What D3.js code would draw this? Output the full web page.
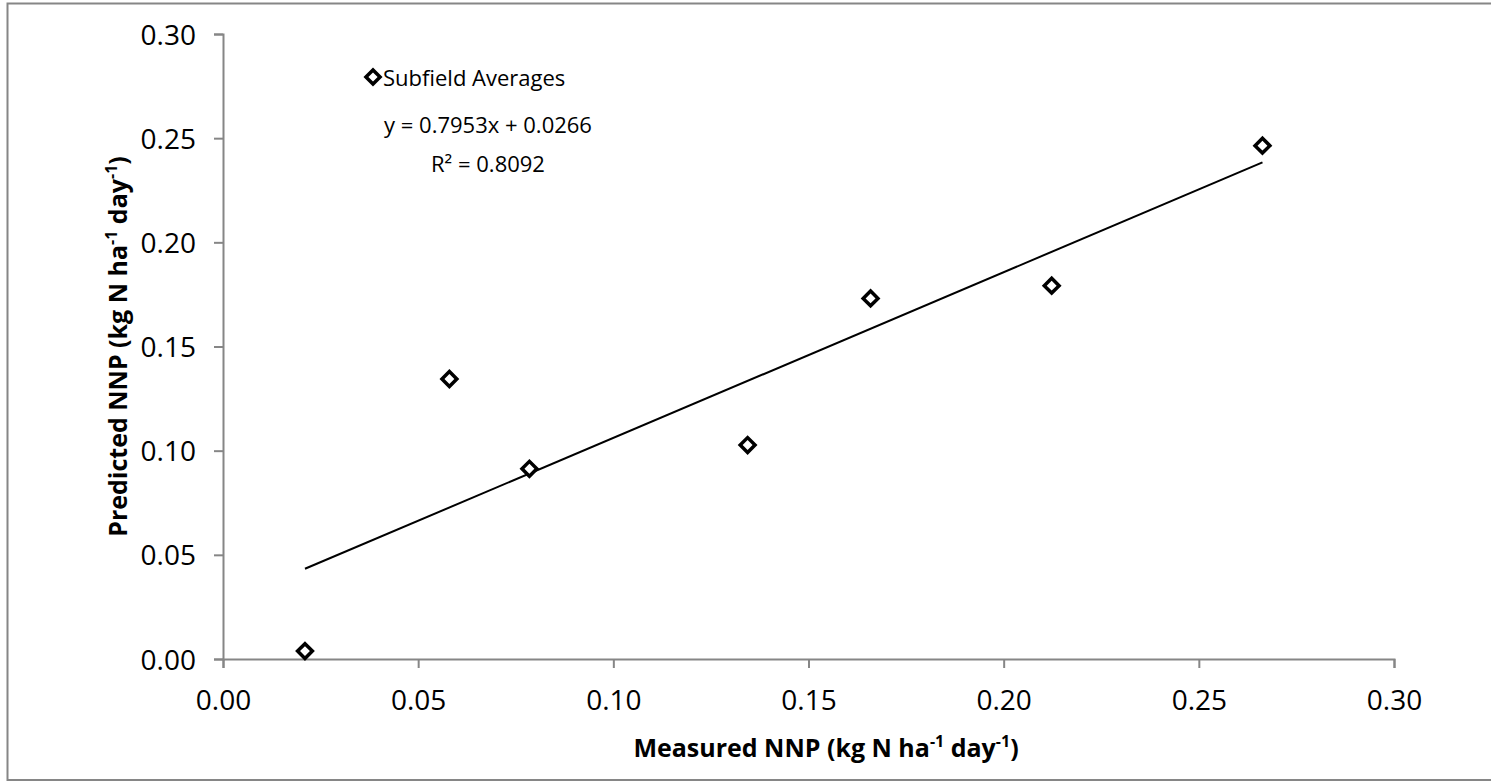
<!DOCTYPE html>
<html>
<head>
<meta charset="utf-8">
<script src="https://cdn.jsdelivr.net/npm/d3@7"></script>
<style>
  body { margin: 0; background: #fff; }
  text { font-family: "Open Sans", "Liberation Sans", sans-serif; fill: #000; }
</style>
</head>
<body>
<div class="chart"></div>
<script>
// Data
const measured  = [0.0210, 0.0580, 0.0785, 0.1344, 0.1659, 0.2123, 0.2663];
const predicted = [0.0038, 0.1344, 0.0913, 0.1027, 0.1731, 0.1792, 0.2464];
const xTicks = [0, 0.05, 0.10, 0.15, 0.20, 0.25, 0.30];
const yTicks = [0, 0.05, 0.10, 0.15, 0.20, 0.25, 0.30];
const slope = 0.7953, intercept = 0.0266;
const seriesName = 'Subfield Averages';
const eqText = 'y = 0.7953x + 0.0266';
const r2Text = 'R² = 0.8092';

const width = 1491, height = 784;
const margin = {top: 34, right: 97, bottom: 125, left: 223};
const axisColor = '#868686';

const svg = d3.select('.chart').append('svg')
  .attr('width', width).attr('height', height);

// outer chart border (right edge runs off the frame)
svg.append('rect')
  .attr('x', 7.5).attr('y', 3.5)
  .attr('width', width + 10).attr('height', 776.5)
  .attr('fill', 'none').attr('stroke', axisColor).attr('stroke-width', 2);

const x = d3.scaleLinear().domain([0, 0.30]).range([margin.left, width - margin.right]);
const y = d3.scaleLinear().domain([0, 0.30]).range([height - margin.bottom, margin.top]);

// axes
const xAxis = d3.axisBottom(x).tickValues(xTicks).tickFormat(d3.format('.2f'))
  .tickSizeInner(9).tickSizeOuter(9).tickPadding(22);
const yAxis = d3.axisLeft(y).tickValues(yTicks).tickFormat(d3.format('.2f'))
  .tickSizeInner(9).tickSizeOuter(9).tickPadding(18);

const gx = svg.append('g').attr('transform', `translate(0,${y(0)})`).call(xAxis);
const gy = svg.append('g').attr('transform', `translate(${x(0)},0)`).call(yAxis);
[gx, gy].forEach(g => {
  g.select('.domain').attr('stroke', axisColor).attr('stroke-width', 2);
  g.selectAll('.tick line').attr('stroke', axisColor).attr('stroke-width', 2);
  g.selectAll('.tick text').attr('font-size', 28).attr('fill', '#000')
    .style('font-family', '"Open Sans", sans-serif');
});
gx.selectAll('.tick text').attr('dy', '0.71em');
gy.selectAll('.tick text').attr('dy', '0.36em');

// trend line
const xMin = d3.min(measured), xMax = d3.max(measured);
svg.append('line')
  .attr('x1', x(xMin)).attr('y1', y(slope * xMin + intercept))
  .attr('x2', x(xMax)).attr('y2', y(slope * xMax + intercept))
  .attr('stroke', '#000').attr('stroke-width', 2);

// points
const diamond = d3.symbol().type(d3.symbolSquare).size(110);
svg.selectAll('.pt').data(measured).enter().append('path')
  .attr('class', 'pt')
  .attr('d', diamond)
  .attr('transform', (d, i) => `translate(${x(d)},${y(predicted[i])}) rotate(45)`)
  .attr('fill', '#fff').attr('stroke', '#000').attr('stroke-width', 3.5);

// legend
svg.append('path').attr('d', d3.symbol().type(d3.symbolSquare).size(100))
  .attr('transform', 'translate(373,77) rotate(45)')
  .attr('fill', '#fff').attr('stroke', '#000').attr('stroke-width', 3.5);
svg.append('text').attr('x', 383).attr('y', 86).attr('font-size', 22).text(seriesName);

// equation
svg.append('text').attr('x', 488).attr('y', 133).attr('text-anchor', 'middle')
  .attr('font-size', 22).text(eqText);
svg.append('text').attr('x', 488).attr('y', 172).attr('text-anchor', 'middle')
  .attr('font-size', 22).text(r2Text);

// axis titles with superscripts
function unitTitle(sel, label) {
  sel.attr('font-size', 25).attr('font-weight', 'bold');
  sel.append('tspan').text(label + ' (kg N ha');
  sel.append('tspan').attr('dy', -10).attr('font-size', 16).text('-1');
  sel.append('tspan').attr('dy', 10).text(' day');
  sel.append('tspan').attr('dy', -10).attr('font-size', 16).text('-1');
  sel.append('tspan').attr('dy', 10).text(')');
}
const xt = svg.append('text').attr('x', 826).attr('y', 757).attr('text-anchor', 'middle');
unitTitle(xt, 'Measured NNP');
const yt = svg.append('text').attr('text-anchor', 'middle')
  .attr('transform', `translate(127,${(y(0) + y(0.30)) / 2}) rotate(-90)`);
unitTitle(yt, 'Predicted NNP');
</script>
</body>
</html>
